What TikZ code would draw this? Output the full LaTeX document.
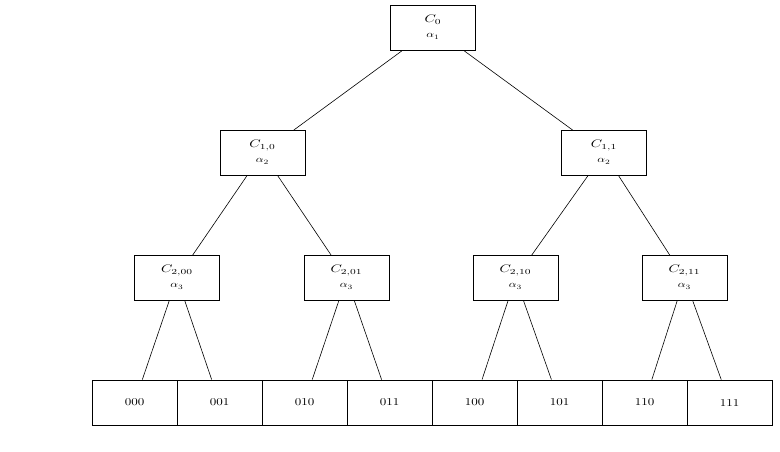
\documentclass[tikz,border=0pt]{standalone}
\usepackage{graphicx}
% two-line cell label: coefficient on top, level parameter below, widened
\newcommand{\celllbl}[2]{%
  \begin{tabular}{@{}c@{}}\scalebox{1.45}[1.1]{$#1$}\\[3pt]\scalebox{1.2}[0.95]{$#2$}\end{tabular}}
\newcommand{\leaflbl}[1]{\scalebox{1.3}[1.05]{#1}}
\begin{document}
\begin{tikzpicture}[x=1pt,y=-1pt,
  cell/.style={draw, line width=0.8pt, rectangle, minimum width=85pt,
               minimum height=45pt, inner sep=0pt},
  link/.style={line width=0.6pt}]
\useasboundingbox (0,0) rectangle (780,451);

% root
\node[cell] (r) at (433,28) {\celllbl{C_0}{\alpha_1}};

% level 1
\node[cell] (a0) at (262.5,153) {\celllbl{C_{1,0}}{\alpha_2}};
\node[cell] (a1) at (604,153) {\celllbl{C_{1,1}}{\alpha_2}};

% level 2
\node[cell] (b00) at (177,278) {\celllbl{C_{2,00}}{\alpha_3}};
\node[cell] (b01) at (346.5,278) {\celllbl{C_{2,01}}{\alpha_3}};
\node[cell] (b10) at (515.5,278) {\celllbl{C_{2,10}}{\alpha_3}};
\node[cell] (b11) at (684.5,278) {\celllbl{C_{2,11}}{\alpha_3}};

% leaves
\node[cell] (l000) at (134.5,402.5) {\leaflbl{000}};
\node[cell] (l001) at (219.5,402.5) {\leaflbl{001}};
\node[cell] (l010) at (304.5,402.5) {\leaflbl{010}};
\node[cell] (l011) at (389.5,402.5) {\leaflbl{011}};
\node[cell] (l100) at (474.5,402.5) {\leaflbl{100}};
\node[cell] (l101) at (559.5,402.5) {\leaflbl{101}};
\node[cell] (l110) at (644.5,402.5) {\leaflbl{110}};
\node[cell] (l111) at (729.5,402.5) {\leaflbl{111}};

% connectors
\draw[link] (r) -- (a0);
\draw[link] (r) -- (a1);
\draw[link] (a0) -- (b00);
\draw[link] (a0) -- (b01);
\draw[link] (a1) -- (b10);
\draw[link] (a1) -- (b11);
\draw[link] (b00) -- (l000);
\draw[link] (b00) -- (l001);
\draw[link] (b01) -- (l010);
\draw[link] (b01) -- (l011);
\draw[link] (b10) -- (l100);
\draw[link] (b10) -- (l101);
\draw[link] (b11) -- (l110);
\draw[link] (b11) -- (l111);
\end{tikzpicture}
\end{document}
